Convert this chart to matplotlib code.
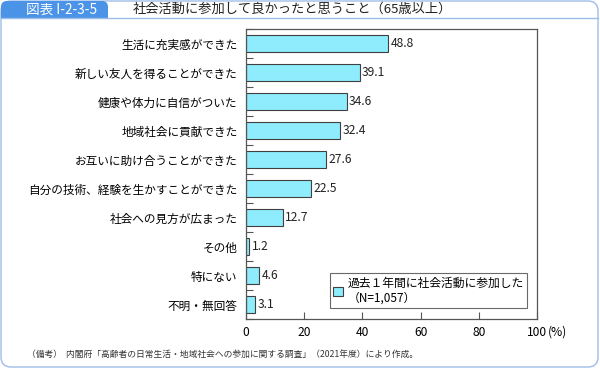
import matplotlib
matplotlib.use('Agg')
import matplotlib.pyplot as plt
from matplotlib.patches import FancyBboxPatch, Rectangle
import numpy as np

plt.rcParams['font.family'] = ['Noto Sans CJK JP', 'DejaVu Sans']

categories = ['生活に充実感ができた', '新しい友人を得ることができた', '健康や体力に自信がついた',
              '地域社会に貢献できた', 'お互いに助け合うことができた', '自分の技術、経験を生かすことができた',
              '社会への見方が広まった', 'その他', '特にない', '不明・無回答']
values = [48.8, 39.1, 34.6, 32.4, 27.6, 22.5, 12.7, 1.2, 4.6, 3.1]
xticks = [0, 20, 40, 60, 80, 100]
legend_label = '過去１年間に社会活動に参加した\n（N=1,057）'

bar_color = '#8eecfc'
edge_color = '#404040'
frame_blue = '#9dbde9'
tab_blue = '#4b93e6'

fig = plt.figure(figsize=(6.0, 3.69), dpi=100)

# background panel drawn in pixel coordinates
bg = fig.add_axes([0, 0, 1, 1], zorder=-1)
bg.set_xlim(0, 600)
bg.set_ylim(369, 0)
bg.axis('off')
bg.add_patch(FancyBboxPatch((1, 1), 597, 366, boxstyle='round,pad=0,rounding_size=10',
                            fc='white', ec=frame_blue, lw=1.0))
bg.plot([1, 598], [17.5, 17.5], color=frame_blue, lw=1.0)
bg.add_patch(FancyBboxPatch((1, 1), 107, 16.5, boxstyle='round,pad=0,rounding_size=6',
                            fc=tab_blue, ec='none'))
bg.add_patch(Rectangle((1, 8), 107, 9.5, fc=tab_blue, ec='none'))
bg.text(62, 9.5, '図表 I-2-3-5', color='white', fontsize=9.8, ha='center', va='center')
bg.text(133, 9.5, '社会活動に参加して良かったと思うこと（65歳以上）', color='#222222',
        fontsize=9.5, ha='left', va='center')
bg.text(27, 354, '（備考）  内閣府「高齢者の日常生活・地域社会への参加に関する調査」（2021年度）により作成。',
        color='#333333', fontsize=6.3, ha='left', va='center')

ax = fig.add_axes([246 / 600, 1 - 319 / 369, 291 / 600, 290 / 369])
y = np.arange(len(categories))
ax.barh(y, values, height=0.62, color=bar_color, edgecolor=edge_color, linewidth=0.8,
        label=legend_label)
for yi, v in zip(y, values):
    ax.text(v + 0.8, yi, f'{v:.1f}', va='center', ha='left', fontsize=8.7, color='#222222')

ax.set_xlim(0, 100)
ax.set_ylim(len(categories) - 0.5, -0.5)
ax.set_xticks(xticks)
ax.set_xticklabels([str(t) for t in xticks], fontsize=8.7)
ax.set_yticks(y)
ax.set_yticklabels(categories, fontsize=8.4)
ax.set_yticks(np.arange(len(categories) + 1) - 0.5, minor=True)
ax.tick_params(axis='y', which='major', length=0, pad=6)
ax.tick_params(axis='y', which='minor', direction='in', length=5, width=0.8, color='#555555')
ax.tick_params(axis='x', direction='in', length=5, width=0.8, color='#555555', pad=5)
for s in ax.spines.values():
    s.set_color('#555555')
    s.set_linewidth(0.9)
# unit label right after the "100" tick label
ax.annotate('(%)', xy=(100, 0), xycoords=('data', 'axes fraction'), xytext=(8, -5),
            textcoords='offset points', ha='left', va='top', fontsize=8.7)

leg = ax.legend(loc='lower right', bbox_to_anchor=(0.966, 0.038), borderaxespad=0,
                fontsize=8.5, frameon=True, fancybox=False, handlelength=0.8, handleheight=0.8,
                handletextpad=0.4, borderpad=0.3, alignment='left')
leg.get_frame().set_edgecolor('#444444')
leg.get_frame().set_linewidth(0.8)

fig.savefig('out.png', dpi=100)
